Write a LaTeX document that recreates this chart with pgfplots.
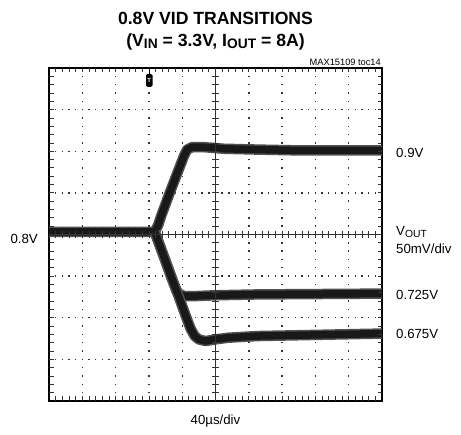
\documentclass[border=0pt]{standalone}
\usepackage{pgfplots}
\pgfplotsset{compat=1.18}
\usepackage{fontspec}
\setmainfont{Liberation Sans}

\newcommand{\sub}[1]{\raisebox{-0.12em}{\scalebox{0.78}{#1}}}

\pgfplotsset{
  screenbox/.style={at={(49bp,34bp)}, anchor=south west, scale only axis,
    width=333bp, height=333bp},
  traceout/.style={black!68, line width=10.5bp, line join=round, line cap=butt},
  tracein/.style={black!90, line width=7.5bp, line join=round, line cap=butt},
}

\begin{document}
\begin{tikzpicture}[x=1bp,y=1bp]
\useasboundingbox (0,0) rectangle (461,435);

\begin{axis}[screenbox, xmin=0, xmax=400, ymin=0.6, ymax=1.0,
  xtick={0,40,80,120,160,200,240,280,320,360,400},
  ytick={0.6,0.65,0.7,0.75,0.8,0.85,0.9,0.95,1.0},
  xticklabels={}, yticklabels={},
  major tick length=0pt,
  grid=major,
  major x grid style={line width=1.4bp, black!80, dash pattern=on 1.4bp off 6.925bp, dash phase=0.7bp},
  major y grid style={line width=1.4bp, black!80, dash pattern=on 1.4bp off 5.26bp, dash phase=0.7bp},
  axis line style={line width=2.2bp, black}]

% 0.9V step
\addplot[traceout] coordinates {(0,0.803)(127,0.803)(131,0.811)(135,0.823)(145,0.850)(155,0.876)(162,0.894)(166,0.902)(172,0.905)(185,0.905)(210,0.903)(250,0.902)(300,0.901)(400,0.901)};
\addplot[tracein] coordinates {(0,0.803)(127,0.803)(131,0.811)(135,0.823)(145,0.850)(155,0.876)(162,0.894)(166,0.902)(172,0.905)(185,0.905)(210,0.903)(250,0.902)(300,0.901)(400,0.901)};
% 0.725V step
\addplot[traceout] coordinates {(127,0.803)(133,0.787)(140,0.768)(148,0.746)(153,0.733)(157,0.728)(163,0.726)(175,0.726)(200,0.727)(250,0.728)(400,0.729)};
\addplot[tracein] coordinates {(127,0.803)(133,0.787)(140,0.768)(148,0.746)(153,0.733)(157,0.728)(163,0.726)(175,0.726)(200,0.727)(250,0.728)(400,0.729)};
% 0.675V step
\addplot[traceout] coordinates {(127,0.803)(133,0.787)(140,0.768)(148,0.746)(156,0.725)(164,0.703)(170,0.687)(175,0.678)(180,0.674)(188,0.672)(200,0.674)(215,0.676)(250,0.678)(300,0.679)(400,0.681)};
\addplot[tracein] coordinates {(127,0.803)(133,0.787)(140,0.768)(148,0.746)(156,0.725)(164,0.703)(170,0.687)(175,0.678)(180,0.674)(188,0.672)(200,0.674)(215,0.676)(250,0.678)(300,0.679)(400,0.681)};
\end{axis}

% graticule: centre crosshair and edge ticks (every 1/5 division)
\begin{scope}[black!80, line width=0.8bp]
\draw (49,200.5) -- (382,200.5);
\draw (215.5,34) -- (215.5,367);
\foreach \i in {1,...,49} {
  \draw (49+\i*6.66,197.3) -- ++(0,6.4);
  \draw (49+\i*6.66,367) -- ++(0,-4.5);
  \draw (49+\i*6.66,34) -- ++(0,4.5);
}
\foreach \i in {1,...,39} {
  \draw (212.3,34+\i*8.325) -- ++(6.4,0);
  \draw (49,34+\i*8.325) -- ++(4.5,0);
  \draw (382,34+\i*8.325) -- ++(-4.5,0);
}
\end{scope}

% trigger marker
\draw[line width=0.8bp] (149.2,361) -- (149.2,367);
\fill[black, rounded corners=1.5bp] (146,348) rectangle (152.5,361);
\node[white, font=\bfseries\fontsize{6}{6}\selectfont, inner sep=0pt] at (149.25,354.5) {T};

% titles and labels
\node[font=\bfseries\fontsize{17.7}{20}\selectfont] at (215.5,417) {0.8V VID TRANSITIONS};
\node[font=\bfseries\fontsize{17.7}{20}\selectfont] at (215.5,393) {(V\sub{IN} = 3.3V, I\sub{OUT} = 8A)};
\node[font=\fontsize{9.3}{10}\selectfont, anchor=east, inner sep=0pt] at (381,373) {MAX15109 toc14};

\begin{scope}[every node/.style={font=\fontsize{13.3}{14}\selectfont, anchor=west, inner sep=0pt}]
\node at (396,282) {0.9V};
\node at (396,203) {V\sub{OUT}};
\node at (396,186) {50mV/div};
\node at (396,140) {0.725V};
\node at (396,101) {0.675V};
\end{scope}
\node[font=\fontsize{13.3}{14}\selectfont, anchor=east, inner sep=0pt] at (38,196) {0.8V};
\node[font=\fontsize{13.3}{14}\selectfont, inner sep=0pt] at (215.5,14) {40µs/div};
\end{tikzpicture}
\end{document}
